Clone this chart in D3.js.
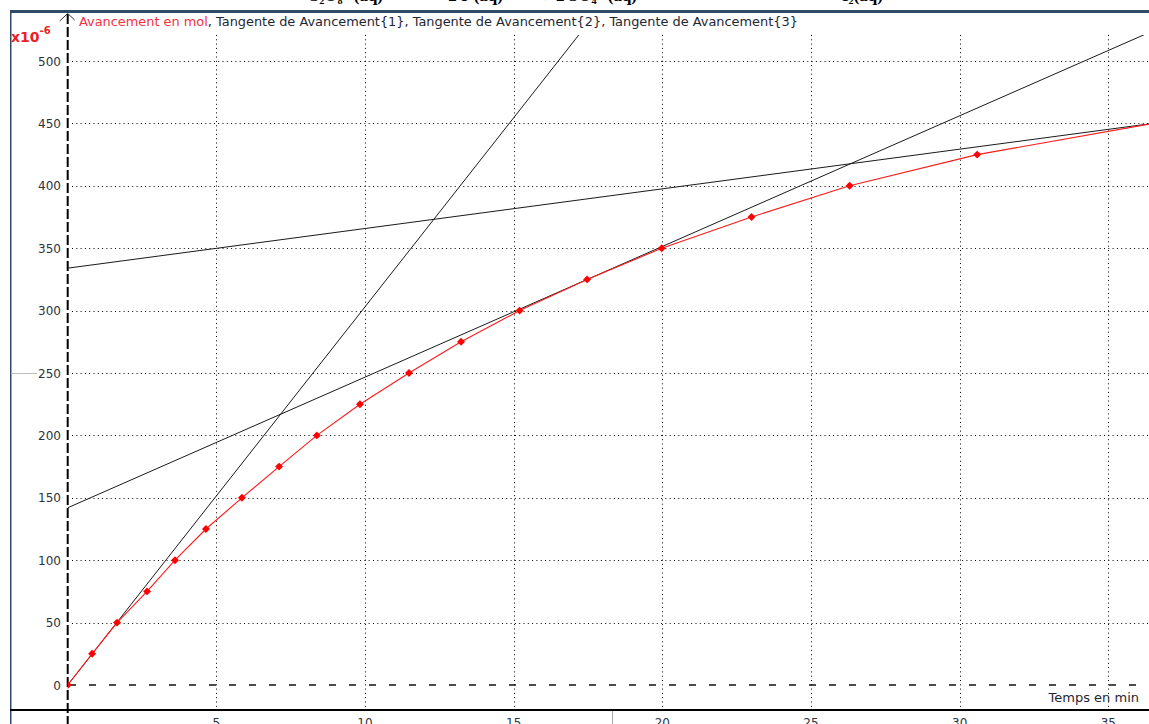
<!DOCTYPE html>
<html>
<head>
<meta charset="utf-8">
<script src="https://cdn.jsdelivr.net/npm/d3@7"></script>
<style>
  html, body { margin: 0; padding: 0; background: #ffffff; overflow: hidden; }
  svg { display: block; }
</style>
</head>
<body>
<svg id="chart" width="1149" height="724"></svg>
<script>
// Mesures : avancement de la réaction (en mol, x10^-6) en fonction du temps (min)
const times      = [0, 0.82, 1.66, 2.67, 3.61, 4.65, 5.86, 7.11, 8.38, 9.83, 11.48, 13.23, 15.2, 17.47, 19.98, 23.0, 26.3, 30.59, 36.5];
const avancement = [0, 25, 50, 75, 100, 125, 150, 175, 200, 225, 250, 275, 300, 325, 350, 375, 400, 425, 450];

// Tangentes : ordonnée à l'origine et pente (x10^-6 mol / min)
const tangentNames      = ["Tangente de Avancement{1}", "Tangente de Avancement{2}", "Tangente de Avancement{3}"];
const tangentIntercepts = [0, 142, 334];
const tangentSlopes     = [30.3, 10.47, 3.178];

// Graduations
const xTicks = [5, 10, 15, 20, 25, 30, 35];
const yTicks = [0, 50, 100, 150, 200, 250, 300, 350, 400, 450, 500];

// Titre (équation de la réaction), coupé en haut de la fenêtre
const titleParts = ["S\u2082O\u2088\u00B2\u207B(aq)", "+ 2 I\u207B(aq)", "\u2192 2 SO\u2084\u00B2\u207B(aq)", "+ I\u2082(aq)"];
const titleEnds  = [383, 503, 637, 883];

const svg = d3.select("#chart");
const W = 1149, H = 724;
const FONT = "DejaVu Sans, Verdana, sans-serif";

// Échelles
const x = d3.scaleLinear().domain([0, 35]).range([67.7, 1108.3]);
const y = d3.scaleLinear().domain([0, 500]).range([685, 61]);

const plot = { left: x(0), right: W, top: 35, bottom: 710 };

// Titre
svg.append("g").selectAll("text").data(titleParts).join("text")
  .attr("x", (d, i) => titleEnds[i])
  .attr("y", 1)
  .attr("text-anchor", "end")
  .attr("font-family", "Liberation Serif, serif")
  .attr("font-weight", "bold")
  .attr("font-size", 17)
  .attr("fill", "#000")
  .text(d => d);

// Cadre de la fenêtre
svg.append("rect").attr("x", 10).attr("y", 10).attr("width", W - 10).attr("height", 3).attr("fill", "#2e4b68");
svg.append("rect").attr("x", 10).attr("y", 10).attr("width", 1.5).attr("height", H - 10).attr("fill", "#2e4b68");

// Clip de la zone de tracé
svg.append("defs").append("clipPath").attr("id", "plotclip")
  .append("rect")
  .attr("x", plot.left).attr("y", plot.top)
  .attr("width", plot.right - plot.left).attr("height", plot.bottom - plot.top);

// Grille pointillée verticale
svg.append("g").selectAll("line").data(xTicks).join("line")
  .attr("x1", d => Math.round(x(d)) + 0.5).attr("x2", d => Math.round(x(d)) + 0.5)
  .attr("y1", plot.top).attr("y2", 708)
  .attr("stroke", "#000").attr("stroke-width", 1)
  .attr("stroke-dasharray", "1,3.3");

// Grille pointillée horizontale
svg.append("g").selectAll("line").data(yTicks.filter(d => d !== 0)).join("line")
  .attr("x1", 72).attr("x2", W)
  .attr("y1", d => Math.round(y(d)) + 0.5).attr("y2", d => Math.round(y(d)) + 0.5)
  .attr("stroke", "#000").attr("stroke-width", 1)
  .attr("stroke-dasharray", "1,3.3");

// Ligne y = 0 en tirets
svg.append("line")
  .attr("x1", 69).attr("x2", W)
  .attr("y1", y(0)).attr("y2", y(0))
  .attr("stroke", "#111").attr("stroke-width", 1.6)
  .attr("stroke-dasharray", "7,13");

// Axe horizontal
svg.append("line")
  .attr("x1", 10).attr("x2", W).attr("y1", 710).attr("y2", 710)
  .attr("stroke", "#000").attr("stroke-width", 2);

// Séparateur sous l'axe
svg.append("line")
  .attr("x1", 612.5).attr("x2", 612.5).attr("y1", 711).attr("y2", H)
  .attr("stroke", "#aaaaaa").attr("stroke-width", 1);

// Repère gris à gauche
svg.append("line")
  .attr("x1", 11).attr("x2", 37).attr("y1", Math.round(y(250)) + 0.5).attr("y2", Math.round(y(250)) + 0.5)
  .attr("stroke", "#bbbbbb").attr("stroke-width", 1);

// Axe vertical en tirets avec flèche
svg.append("line")
  .attr("x1", x(0)).attr("x2", x(0)).attr("y1", 14).attr("y2", H)
  .attr("stroke", "#000").attr("stroke-width", 2)
  .attr("stroke-dasharray", "10,3");
svg.append("path")
  .attr("d", `M${x(0) - 8},21 L${x(0)},13.5 L${x(0) + 7},20`)
  .attr("fill", "none").attr("stroke", "#333").attr("stroke-width", 1);

// Graduations de l'axe vertical
svg.append("g").selectAll("text").data(yTicks).join("text")
  .attr("x", 61).attr("y", d => y(d) + 4.5)
  .attr("text-anchor", "end")
  .attr("font-family", FONT).attr("font-size", 12)
  .attr("fill", "#2b3340")
  .text(d => d);

// Graduations de l'axe horizontal
svg.append("g").selectAll("text").data(xTicks).join("text")
  .attr("x", d => x(d)).attr("y", 727)
  .attr("text-anchor", "middle")
  .attr("font-family", FONT).attr("font-size", 12)
  .attr("fill", "#2b3340")
  .text(d => d);

// Unité de l'axe vertical
const unit = svg.append("text")
  .attr("x", 11).attr("y", 42)
  .attr("font-family", FONT).attr("font-weight", "bold").attr("font-size", 14)
  .attr("fill", "#ee1c25");
unit.append("tspan").text("x10");
unit.append("tspan").attr("dy", -8).attr("font-size", 10).text("-6");

// Titre de l'axe horizontal
svg.append("text")
  .attr("x", 1139).attr("y", 702)
  .attr("text-anchor", "end")
  .attr("font-family", FONT).attr("font-size", 13)
  .attr("fill", "#1e2633")
  .text("Temps en min");

// Légende
const legend = svg.append("text")
  .attr("x", 79).attr("y", 26)
  .attr("font-family", FONT).attr("font-size", 12.9)
  .attr("fill", "#1e2633");
legend.append("tspan").attr("fill", "#f5303e").text("Avancement en mol");
tangentNames.forEach(n => legend.append("tspan").text(", " + n));

// Zone de tracé
const g = svg.append("g").attr("clip-path", "url(#plotclip)");

// Tangentes
const tMax = 40;
g.append("g").selectAll("line").data(tangentSlopes).join("line")
  .attr("x1", x(0))
  .attr("y1", (d, i) => y(tangentIntercepts[i]))
  .attr("x2", x(tMax))
  .attr("y2", (d, i) => y(tangentIntercepts[i] + d * tMax))
  .attr("stroke", "#1a1a1a").attr("stroke-width", 1);

// Courbe de l'avancement
const pts = times.map((t, i) => [t, avancement[i]]);
g.append("path")
  .datum(pts)
  .attr("d", d3.line().x(d => x(d[0])).y(d => y(d[1])))
  .attr("fill", "none").attr("stroke", "#ff1a1a").attr("stroke-width", 1.1);

// Points de mesure
g.append("g").selectAll("path").data(pts).join("path")
  .attr("transform", d => `translate(${x(d[0])},${y(d[1])})`)
  .attr("d", d3.symbol().type(d3.symbolDiamond2).size(40))
  .attr("fill", "#ff0000");
</script>
</body>
</html>
